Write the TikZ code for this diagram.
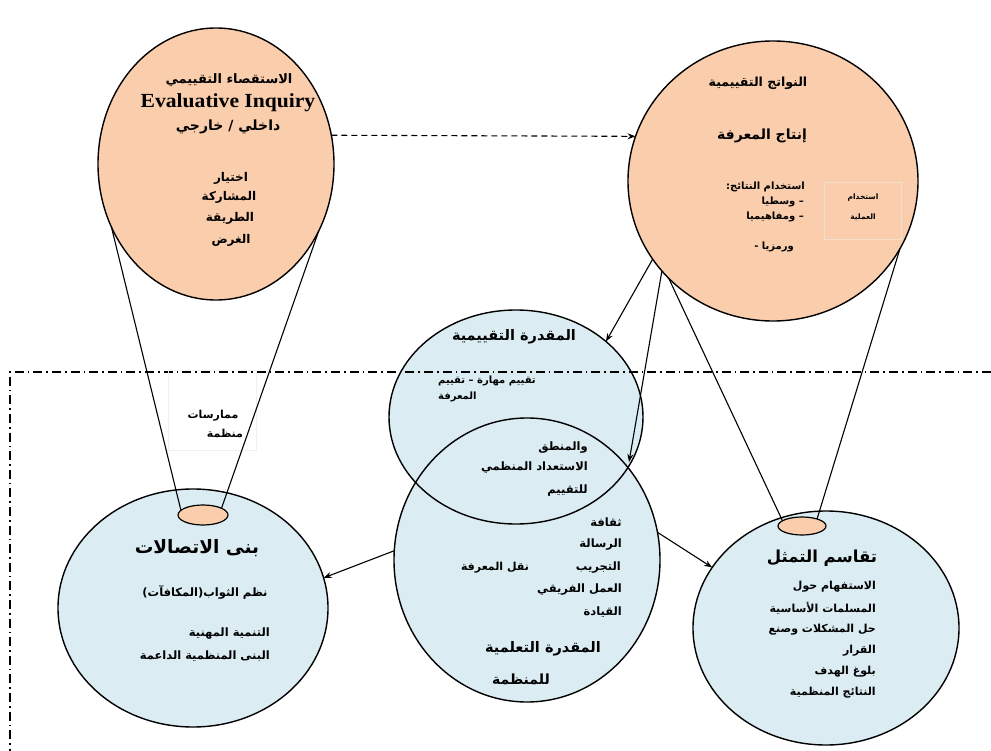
\documentclass[tikz,border=0pt]{standalone}
\usepackage{fontspec}
\setmainfont{Liberation Serif}
\newfontfamily\arfont[Script=Arabic]{DejaVu Sans}
\newfontfamily\latinwide[FakeStretch=1.08]{Liberation Serif}
\TeXXeTstate=1
\usetikzlibrary{arrows.meta,shapes.geometric}
\newcommand{\AR}[1]{{\beginR #1\endR}}
\definecolor{peach}{RGB}{250,205,172}
\definecolor{paleblue}{RGB}{219,236,243}
\definecolor{boxline}{RGB}{244,222,205}
\begin{document}
\begin{tikzpicture}[x=1pt,y=-1pt,
  blob/.style={ellipse,inner sep=0pt,outer sep=0pt},
  rim/.style={draw=black,line width=1.4pt},
  cone/.style={line width=1.1pt},
  arr/.style={line width=1.1pt,-{Stealth[length=8pt,width=6pt]}},
  framed/.style={line width=1.3pt,dash pattern=on 9pt off 4pt on 1.6pt off 4pt},
  txt/.style={inner sep=0pt,font=\arfont\bfseries\fontsize{#1}{#1}\selectfont}]
\useasboundingbox (0,0) rectangle (991,751);

% bubbles: fills first so that every outline stays visible
\node[blob,fill=peach,minimum width=236pt,minimum height=272pt] (tl) at (216,164) {};
\node[blob,fill=peach,minimum width=290pt,minimum height=280pt] (tr) at (773,181) {};
\node[blob,fill=paleblue,minimum width=254pt,minimum height=214pt] (mu) at (516,417) {};
\node[blob,fill=paleblue,minimum width=266pt,minimum height=284pt] (ml) at (527,560) {};
\node[blob,fill=paleblue,minimum width=270pt,minimum height=238pt] (bl) at (193,608) {};
\node[blob,fill=paleblue,minimum width=266pt,minimum height=234pt] (br) at (826,628) {};
\draw[rim] (tl.center) ellipse [x radius=118,y radius=136];
\draw[rim] (tr.center) ellipse [x radius=145,y radius=140];
\draw[rim] (mu.center) ellipse [x radius=127,y radius=107];
\draw[rim] (ml.center) ellipse [x radius=133,y radius=142];
\draw[rim] (bl.center) ellipse [x radius=135,y radius=119];
\draw[rim] (br.center) ellipse [x radius=133,y radius=117];

% dash-dot frame around the lower part
\coordinate (fr1) at (991,372);
\coordinate (fr2) at (10,372);
\coordinate (fr3) at (10,751);
\draw[framed] (fr1) -- (fr2) -- (fr3);

% faint boxes
\node[draw=black!6,line width=0.8pt,minimum width=88pt,minimum height=80pt,inner sep=0pt] (pbox) at (212,410) {};
\node[draw=boxline,line width=0.8pt,minimum width=77pt,minimum height=57pt,inner sep=0pt] (ubox) at (863,211) {};

% small lenses where the cones land
\node[blob,fill=peach,rim,line width=1.2pt,minimum width=50pt,minimum height=20pt] (se1) at (203,515) {};
\node[blob,fill=peach,rim,line width=1.2pt,minimum width=48pt,minimum height=18pt] (se2) at (802,526) {};

% cones
\draw[cone] (tl.211) -- (se1.168);
\draw[cone] (tl.327) -- (se1.20);
\draw[cone] (tr.223) -- (se2.165);
\draw[cone] (tr.332) -- (se2.25);

% arrows
\coordinate (xr) at (629,462);
\draw[arr,dash pattern=on 6pt off 4pt] (tl.14) -- (tr.162);
\draw[arr] (tr.213) -- (mu.40);
\draw[arr] (tr.219) -- (xr);
\draw[arr] (ml.176) -- (bl.13);
\draw[arr] (ml.12) -- (br.152);

% top-left bubble
\node[txt=13] (a1) at (229,80) {\AR{الاستقصاء التقييمي}};
\node[inner sep=0pt,font=\latinwide\bfseries\fontsize{20}{22}\selectfont] (a2) at (228,103) {Evaluative Inquiry};
\node[txt=14] (a3) at (228,127) {\AR{داخلي / خارجي}};
\node[txt=12] (a4) at (231,178) {\AR{اختيار}};
\node[txt=12] (a5) at (229,197) {\AR{المشاركة}};
\node[txt=12] (a6) at (230,218) {\AR{الطريقة}};
\node[txt=12] (a7) at (231,240) {\AR{الغرض}};

% top-right bubble
\node[txt=12.5] (b1) at (758,83) {\AR{النواتج التقييمية}};
\node[txt=14] (b2) at (762,136) {\AR{إنتاج المعرفة}};
\node[txt=10,anchor=east] (b3) at (805,187) {\AR{استخدام النتائج:}};
\node[txt=10,anchor=east] (b4) at (804,202) {\AR{– وسطيا}};
\node[txt=10,anchor=east] (b5) at (804,217) {\AR{– ومفاهيميا}};
\node[txt=10,anchor=east] (b6) at (794,247) {\AR{ورمزيا -}};
\node[txt=7.5] (b7) at (863,198) {\AR{استخدام}};
\node[txt=7.5] (b8) at (863,217) {\AR{العملية}};

% evaluative capacity bubble
\node[txt=14.5] (c1) at (514,337) {\AR{المقدرة التقييمية}};
\node[txt=10,anchor=west] (c2) at (438,381) {\AR{تقييم مهارة – تقييم}};
\node[txt=10,anchor=west] (c3) at (438,397) {\AR{المعرفة}};
\node[txt=11.5,anchor=east] (c4) at (588,448) {\AR{والمنطق}};
\node[txt=11.5,anchor=east] (c5) at (588,468) {\AR{الاستعداد المنظمي}};
\node[txt=11.5,anchor=east] (c6) at (588,491) {\AR{للتقييم}};

% learning capacity bubble
\node[txt=11.5,anchor=east] (d1) at (622,522) {\AR{ثقافة}};
\node[txt=11.5,anchor=east] (d2) at (622,545) {\AR{الرسالة}};
\node[txt=11.5,anchor=east] (d3) at (621,568) {\AR{التجريب}};
\node[txt=11] (d4) at (495,568) {\AR{نقل المعرفة}};
\node[txt=11.5,anchor=east] (d5) at (622,590) {\AR{العمل الفريقي}};
\node[txt=11.5,anchor=east] (d6) at (622,612) {\AR{القيادة}};
\node[txt=14.5] (d7) at (543,649) {\AR{المقدرة التعلمية}};
\node[txt=14] (d8) at (521,679) {\AR{للمنظمة}};

% communication structures bubble
\node[txt=18.5] (e1) at (197,548) {\AR{بنى الاتصالات}};
\node[txt=11.5] (e2) at (205,592) {\AR{نظم الثواب(المكافآت)}};
\node[txt=11.5,anchor=east] (e3) at (270,634) {\AR{التنمية المهنية}};
\node[txt=11.5,anchor=east] (e4) at (270,656) {\AR{البنى المنظمية الداعمة}};

% shared representation bubble
\node[txt=16.5] (f1) at (822,558) {\AR{تقاسم التمثل}};
\node[txt=11,anchor=east] (f2) at (876,587) {\AR{الاستفهام حول}};
\node[txt=11,anchor=east] (f3) at (876,608) {\AR{المسلمات الأساسية}};
\node[txt=11,anchor=east] (f4) at (876,630) {\AR{حل المشكلات وصنع}};
\node[txt=11,anchor=east] (f5) at (876,651) {\AR{القرار}};
\node[txt=11,anchor=east] (f6) at (876,672) {\AR{بلوغ الهدف}};
\node[txt=11,anchor=east] (f7) at (876,693) {\AR{النتائج المنظمية}};

% organisational practices
\node[txt=11] (g1) at (213,416) {\AR{ممارسات}};
\node[txt=11] (g2) at (225,433) {\AR{منظمة}};
\end{tikzpicture}
\end{document}
